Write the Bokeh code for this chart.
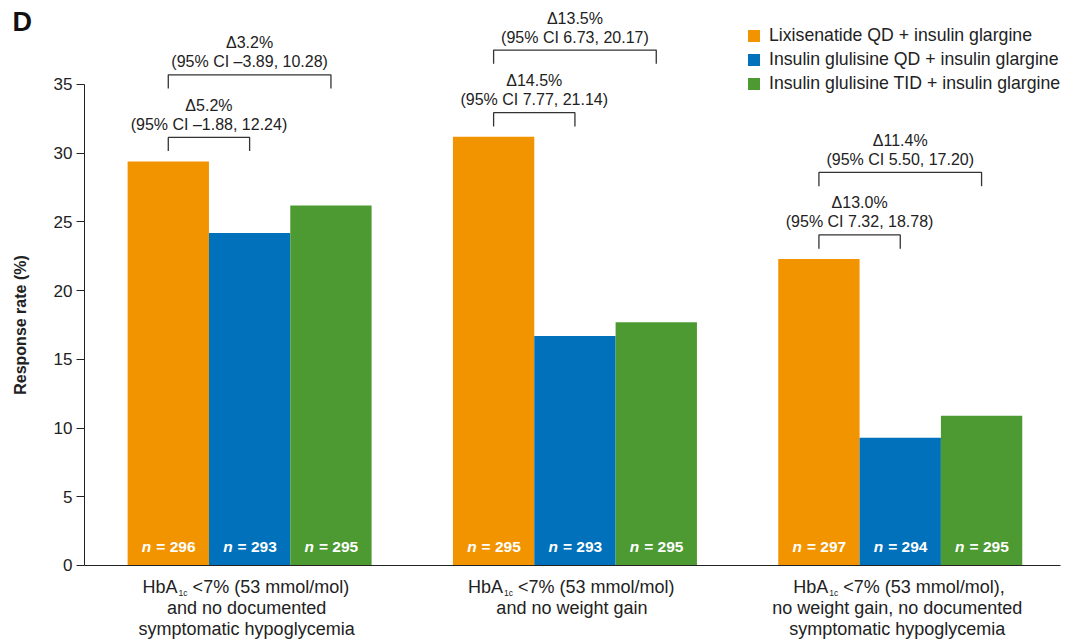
from bokeh.plotting import figure
from bokeh.models import Range1d, Legend, LegendItem, ColumnDataSource, FixedTicker, LinearAxis
from bokeh.core.properties import value
from bokeh.embed import file_html
from bokeh.resources import INLINE

# ---- data -------------------------------------------------------------
series_names = [
    "Lixisenatide QD + insulin glargine",
    "Insulin glulisine QD + insulin glargine",
    "Insulin glulisine TID + insulin glargine",
]
lixisenatide_qd = [29.4, 31.2, 22.3]
glulisine_qd = [24.2, 16.7, 9.3]
glulisine_tid = [26.2, 17.7, 10.9]

n_lixisenatide_qd = [296, 295, 297]
n_glulisine_qd = [293, 293, 294]
n_glulisine_tid = [295, 295, 295]

# treatment differences vs lixisenatide (glulisine QD, then glulisine TID)
delta_vs_qd = ["\u03945.2%", "\u039414.5%", "\u039413.0%"]
ci_vs_qd = ["(95% CI \u20131.88, 12.24)", "(95% CI 7.77, 21.14)", "(95% CI 7.32, 18.78)"]
delta_vs_tid = ["\u03943.2%", "\u039413.5%", "\u039411.4%"]
ci_vs_tid = ["(95% CI \u20133.89, 10.28)", "(95% CI 6.73, 20.17)", "(95% CI 5.50, 17.20)"]

label_tail = ["<7% (53 mmol/mol)", "<7% (53 mmol/mol)", "<7% (53 mmol/mol),"]
label_more = [
    ["and no documented", "symptomatic hypoglycemia"],
    ["and no weight gain"],
    ["no weight gain, no documented", "symptomatic hypoglycemia"],
]

y_ticks = [0, 5, 10, 15, 20, 25, 30, 35]
panel_letter = "D"

# ---- styling ----------------------------------------------------------
colors = ["#F29400", "#0071BA", "#4C9A31"]
INK = "#222222"
FONT = "Liberation Sans"

GROUP_STEP = 4
group_x = [g * GROUP_STEP for g in range(3)]
X_AXIS_AT = -1.03          # where the value axis sits
BASELINE_END = 10.97       # right end of the category baseline
X_START, X_END = -2.063, 11.081
Y_START, Y_END = -5.75, 41.11

p = figure(
    width=1069, height=644,
    x_range=Range1d(X_START, X_END), y_range=Range1d(Y_START, Y_END),
    output_backend="svg", toolbar_location=None,
    x_axis_location=None, y_axis_location=None,
    min_border_left=0, min_border_right=0, min_border_top=0, min_border_bottom=0,
)
p.outline_line_color = None
p.xgrid.visible = False
p.ygrid.visible = False
p.background_fill_color = "white"
p.border_fill_color = "white"

# value axis, pinned inside the frame
ax = LinearAxis(fixed_location=X_AXIS_AT, bounds=(0, 35),
                ticker=FixedTicker(ticks=y_ticks))
ax.axis_label = "Response rate (%)"
ax.axis_label_text_font = FONT
ax.axis_label_text_font_style = "bold"
ax.axis_label_text_font_size = "16px"
ax.axis_label_text_color = INK
ax.axis_label_standoff = 22
ax.major_label_text_font = FONT
ax.major_label_text_font_size = "17px"
ax.major_label_text_color = INK
ax.major_label_standoff = 4
ax.major_tick_out = 8
ax.major_tick_in = 0
ax.minor_tick_out = 0
ax.minor_tick_in = 0
ax.axis_line_color = INK
ax.major_tick_line_color = INK
p.add_layout(ax, "left")

# category baseline (no ticks / labels)
bx_axis = LinearAxis(fixed_location=0, bounds=(X_AXIS_AT, BASELINE_END),
                     ticker=FixedTicker(ticks=[]))
bx_axis.major_label_text_font_size = "0px"
bx_axis.major_tick_line_color = None
bx_axis.minor_tick_line_color = None
bx_axis.axis_line_color = INK
p.add_layout(bx_axis, "below")

# ---- bars -------------------------------------------------------------
renderers = []
all_vals = [lixisenatide_qd, glulisine_qd, glulisine_tid]
all_n = [n_lixisenatide_qd, n_glulisine_qd, n_glulisine_tid]
for s, (vals, ns) in enumerate(zip(all_vals, all_n)):
    xs = [gx + s for gx in group_x]
    src = ColumnDataSource(dict(x=xs, top=vals,
                                n=["n"] * 3,
                                rest=["= %d" % v for v in ns]))
    r = p.vbar(x="x", top="top", width=1.0, bottom=0, source=src,
               fill_color=colors[s], line_color=None)
    renderers.append(r)
    p.text(x="x", y=0, text="n", source=src, x_offset=-17, y_offset=-19,
           text_align="right", text_baseline="middle", text_color="white",
           text_font=value(FONT), text_font_style="bold italic",
           text_font_size="15.5px")
    p.text(x="x", y=0, text="rest", source=src, x_offset=-12, y_offset=-19,
           text_align="left", text_baseline="middle", text_color="white",
           text_font=value(FONT), text_font_style="bold",
           text_font_size="15.5px")

# ---- comparison brackets ---------------------------------------------
NEAR_GAP = 1.75   # above lixisenatide bar, inner bracket
FAR_GAP = 6.3     # above lixisenatide bar, outer bracket
DROP = 1.0
bx, by, tx, ty, t1, t2 = [], [], [], [], [], []
for g in range(3):
    base = lixisenatide_qd[g]
    for k, (gap, d, ci) in enumerate([(NEAR_GAP, delta_vs_qd[g], ci_vs_qd[g]),
                                      (FAR_GAP, delta_vs_tid[g], ci_vs_tid[g])]):
        x0 = group_x[g]
        x1 = group_x[g] + k + 1
        top = base + gap
        bx.append([x0, x0, x1, x1])
        by.append([top - DROP, top, top, top - DROP])
        tx.append((x0 + x1) / 2)
        ty.append(top)
        t1.append(d)
        t2.append(ci)
p.multi_line(xs=bx, ys=by, line_color="#333333", line_width=1.3)
ann = ColumnDataSource(dict(x=tx, y=ty, d=t1, ci=t2))
p.text(x="x", y="y", text="d", source=ann, y_offset=-32,
       text_align="center", text_baseline="middle", text_color=INK,
       text_font=value(FONT), text_font_size="16px")
p.text(x="x", y="y", text="ci", source=ann, y_offset=-13,
       text_align="center", text_baseline="middle", text_color=INK,
       text_font=value(FONT), text_font_size="16px")

# ---- category labels under the axis ----------------------------------
cx = [gx + 1 for gx in group_x]
lab = ColumnDataSource(dict(x=cx, hb=["HbA"] * 3, sub=["1c"] * 3, tail=label_tail))
LAB_SIZE = "18px"
p.text(x="x", y=0, text="hb", source=lab, x_offset=-72, y_offset=22,
       text_align="right", text_baseline="middle", text_color=INK,
       text_font=value(FONT), text_font_size=LAB_SIZE)
p.text(x="x", y=0, text="sub", source=lab, x_offset=-71, y_offset=28,
       text_align="left", text_baseline="middle", text_color=INK,
       text_font=value(FONT), text_font_size="8.5px")
p.text(x="x", y=0, text="tail", source=lab, x_offset=-57, y_offset=22,
       text_align="left", text_baseline="middle", text_color=INK,
       text_font=value(FONT), text_font_size=LAB_SIZE)
for line in range(2):
    xs = [cx[g] for g in range(3) if len(label_more[g]) > line]
    ts = [label_more[g][line] for g in range(3) if len(label_more[g]) > line]
    p.text(x=xs, y=[0] * len(xs), text=ts, x_offset=-3, y_offset=43 + 21 * line,
           text_align="center", text_baseline="middle", text_color=INK,
           text_font=value(FONT), text_font_size=LAB_SIZE)

# ---- legend -----------------------------------------------------------
legend = Legend(
    items=[LegendItem(label=series_names[i], renderers=[renderers[i]]) for i in range(3)],
    location=(746, 550),
    glyph_width=15, glyph_height=15, label_height=20, label_standoff=8,
    spacing=3, padding=0, margin=0,
    label_text_font=FONT, label_text_font_size="17.7px", label_text_color=INK,
    border_line_color=None, background_fill_alpha=0,
)
p.add_layout(legend, "center")

# ---- panel letter -----------------------------------------------------
p.text(x=[X_START], y=[Y_END], text=[panel_letter], x_offset=12, y_offset=6,
       text_align="left", text_baseline="top", text_color="#111111",
       text_font=value(FONT), text_font_style="bold", text_font_size="27px")

open("out.html", "w").write(file_html(p, INLINE))
